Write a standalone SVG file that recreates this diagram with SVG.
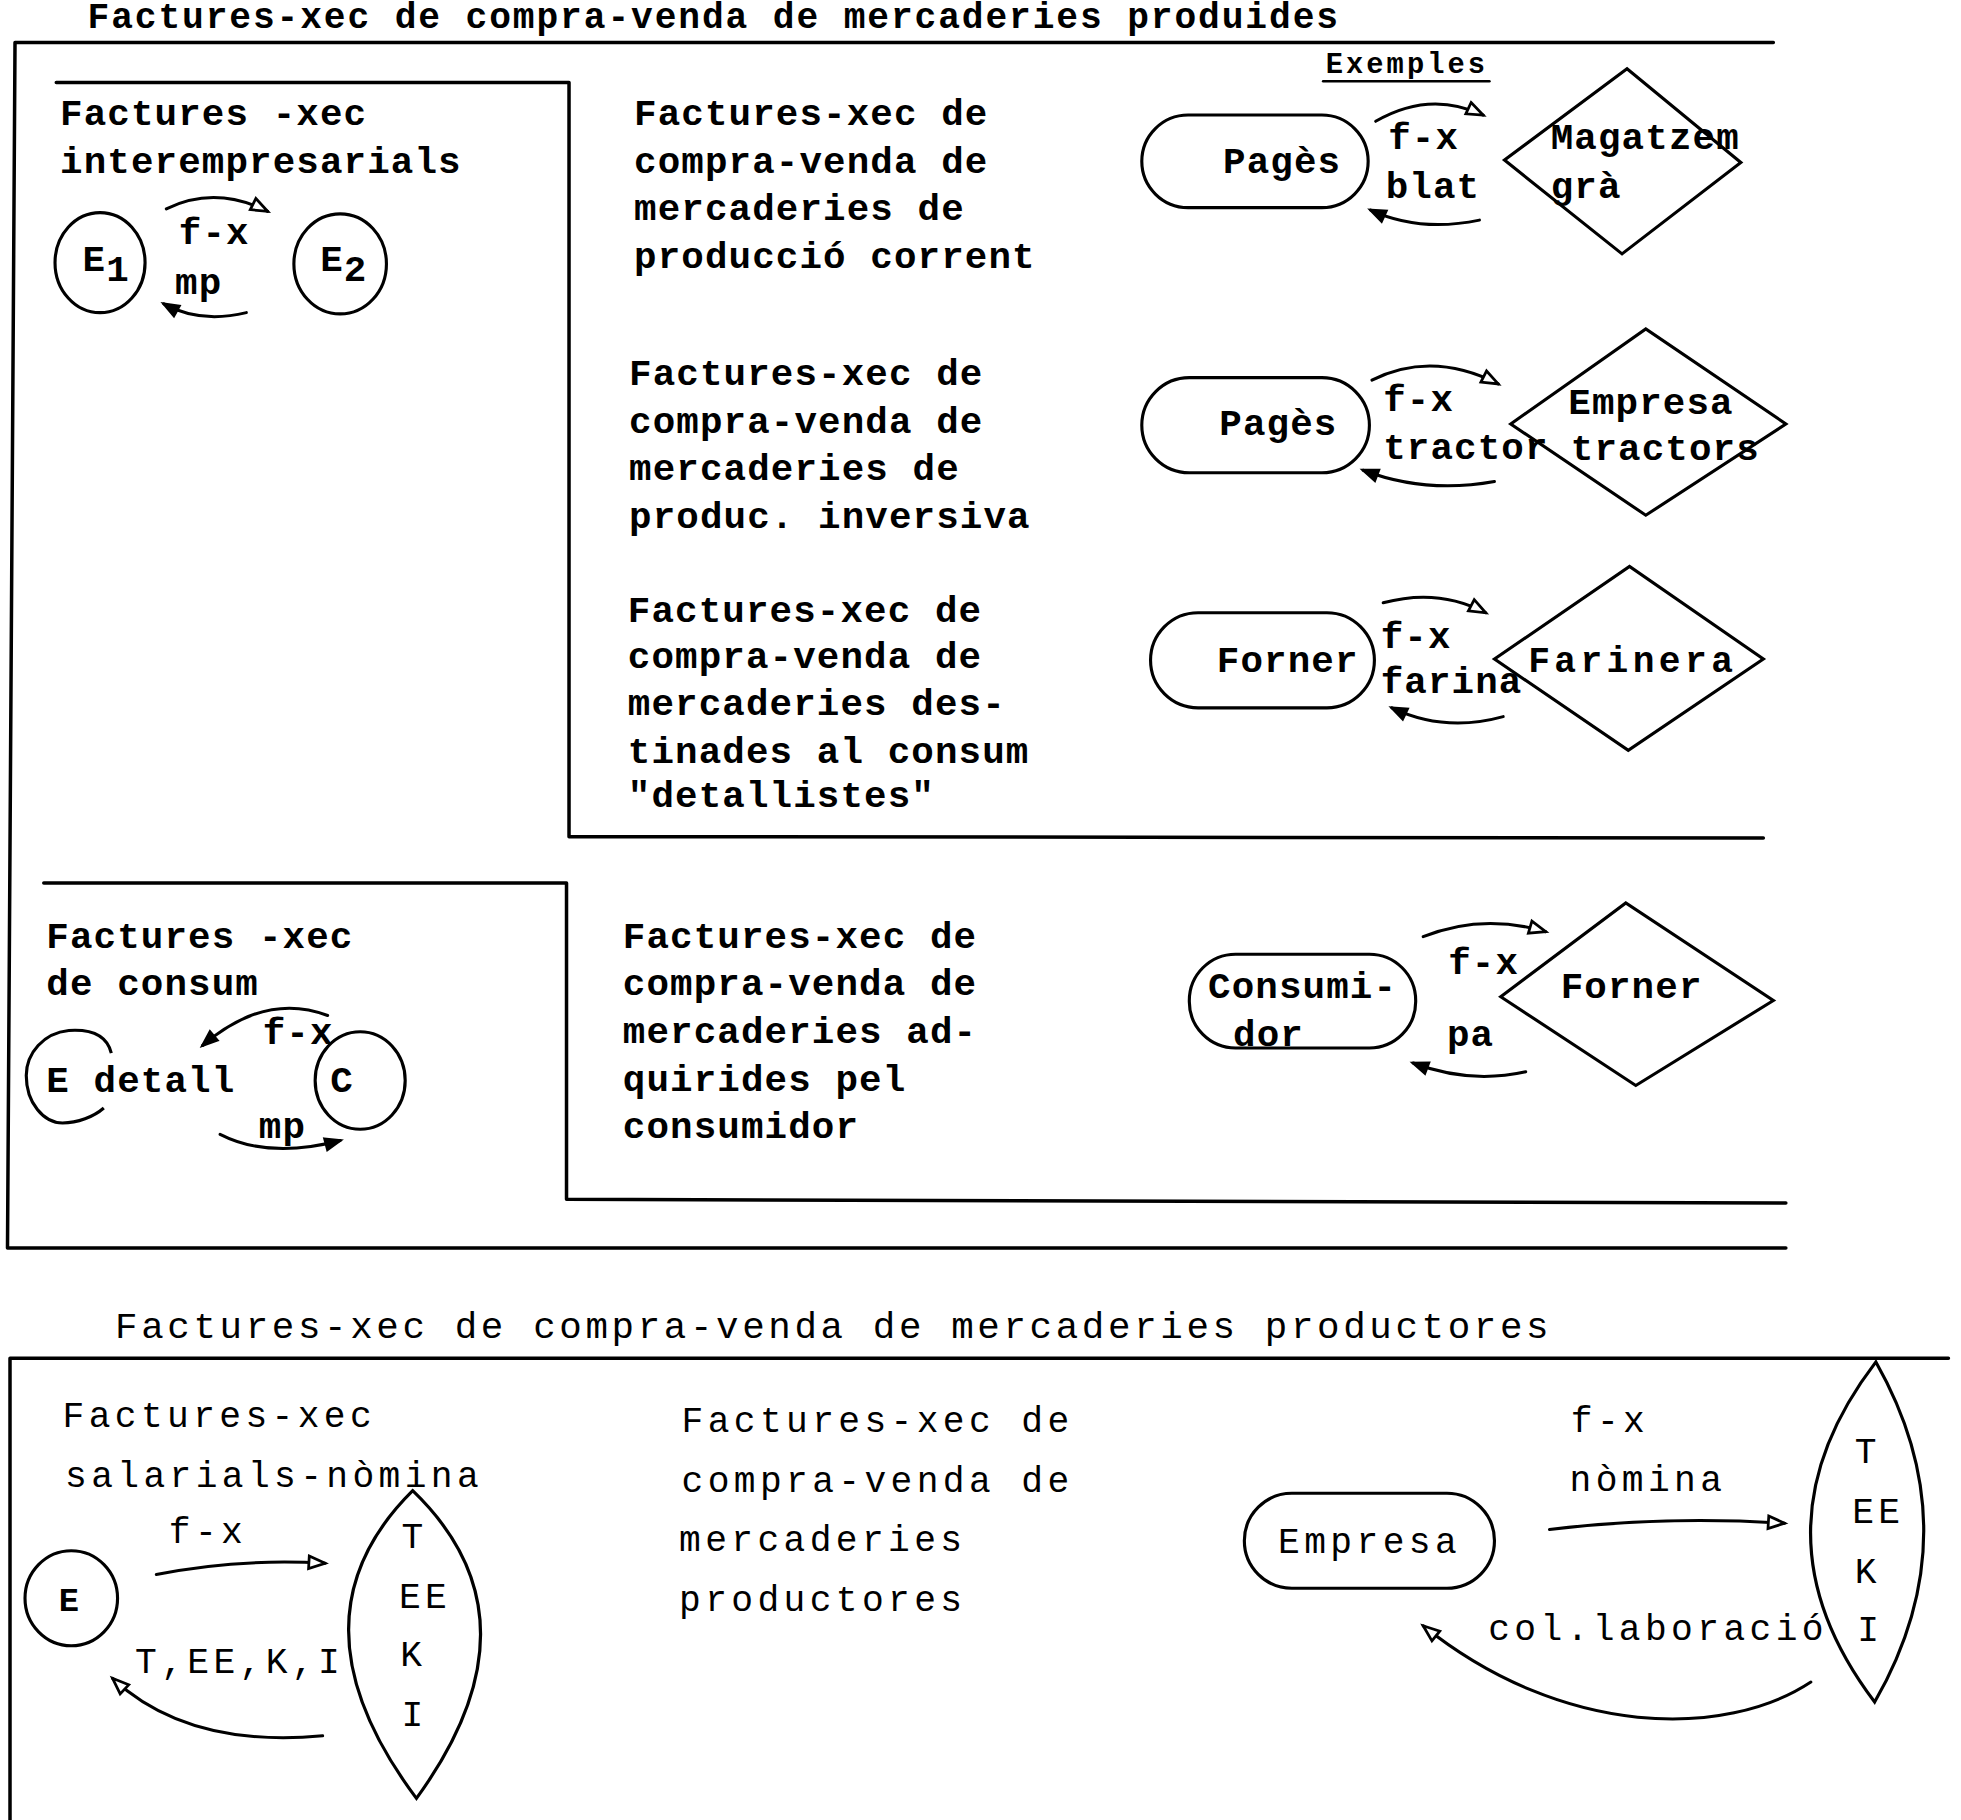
<svg xmlns="http://www.w3.org/2000/svg" width="1961" height="1820" viewBox="0 0 1961 1820">
<style>
.tb{font-family:"Liberation Mono","Courier New",monospace;font-weight:bold;font-size:30px;letter-spacing:0.9px;fill:#000}
.tt{font-family:"Liberation Mono","Courier New",monospace;font-weight:bold;font-size:29px;letter-spacing:1.5px;fill:#000}
.tl{font-family:"Liberation Mono","Courier New",monospace;font-size:29px;letter-spacing:3.5px;fill:#000}
.t2{font-family:"Liberation Mono","Courier New",monospace;font-size:30px;letter-spacing:2.9px;fill:#000}
.ts{font-family:"Liberation Mono","Courier New",monospace;font-weight:bold;font-size:23px;letter-spacing:2.45px;fill:#000}
.bx{fill:none;stroke:#000;stroke-width:2.8;stroke-linejoin:round;stroke-linecap:round}
.nd{fill:none;stroke:#000;stroke-width:2.5}
.cn{fill:none;stroke:#000;stroke-width:2.4;stroke-linecap:round}
.op{marker-end:url(#open)}
.fl{marker-end:url(#fill)}
</style>
<defs>
<marker id="open" markerUnits="userSpaceOnUse" markerWidth="18" markerHeight="14" refX="14" refY="5.5" orient="auto" overflow="visible">
<path d="M1,0.5 L14,5.5 L1,10.5 Z" fill="#fff" stroke="#000" stroke-width="2.2"/>
</marker>
<marker id="fill" markerUnits="userSpaceOnUse" markerWidth="16" markerHeight="12" refX="12" refY="5" orient="auto" overflow="visible">
<path d="M0,0 L13,5 L0,10 Z" fill="#000" stroke="#000" stroke-width="1.5"/>
</marker>
</defs>
<rect width="1961" height="1820" fill="#fff"/>
<g transform="scale(1.2506)">

<g id="frames">
<text class="tt" x="70" y="22">Factures-xec de compra-venda de mercaderies produides</text>
<path class="bx" d="M1418,34 L12,34 L6,998 L1428,998"/>
<path class="bx" d="M45,66 L455,66 L455,669 L1410,670"/>
<path class="bx" d="M35,706 L453,706 L453,959 L1428,962"/>
<text class="t2" x="92" y="1070">Factures-xec de compra-venda de mercaderies productores</text>
<path class="bx" d="M1558,1086 L8,1086 L8,1460"/>
<text class="ts" x="1060" y="58">Exemples</text>
<path class="bx" d="M1058,65 L1191,65" style="stroke-width:2"/>
</g>

<g id="interempresarials">
<text class="tb" x="48" y="100">Factures -xec</text>
<text class="tb" x="48" y="138">interempresarials</text>
<text class="tb" x="143" y="195">f-x</text>
<text class="tb" x="140" y="235">mp</text>
</g>
<g id="E1"><ellipse class="nd" cx="80" cy="210" rx="36" ry="40"/><text class="tb" x="66" y="217">E<tspan dy="8">1</tspan></text></g>
<g id="E2"><ellipse class="nd" cx="272" cy="211" rx="37" ry="40"/><text class="tb" x="256" y="217">E<tspan dy="8">2</tspan></text></g>

<g id="desc-corrent">
<text class="tb" x="507" y="100">Factures-xec de</text>
<text class="tb" x="507" y="138">compra-venda de</text>
<text class="tb" x="507" y="176">mercaderies de</text>
<text class="tb" x="507" y="214">producció corrent</text>
</g>
<g id="pages1"><rect class="nd" x="913" y="92" width="181" height="74" rx="37"/><text class="tb" x="978" y="138">Pagès</text></g>
<g id="magatzem"><polygon class="nd" points="1203,128 1301,55 1392,130 1297,203"/><text class="tb" x="1240" y="119">Magatzem</text><text class="tb" x="1240" y="158">grà</text></g>
<g id="lbl1"><text class="tb" x="1110" y="119">f-x</text><text class="tb" x="1108" y="158">blat</text></g>

<g id="desc-inversiva">
<text class="tb" x="503" y="308">Factures-xec de</text>
<text class="tb" x="503" y="346">compra-venda de</text>
<text class="tb" x="503" y="384">mercaderies de</text>
<text class="tb" x="503" y="422">produc. inversiva</text>
</g>
<g id="pages2"><rect class="nd" x="913" y="302" width="182" height="76" rx="38"/><text class="tb" x="975" y="348">Pagès</text></g>
<g id="empresa-tractors"><polygon class="nd" points="1208,339 1316,263 1428,339 1316,412"/><text class="tb" x="1254" y="331">Empresa</text><text class="tb" x="1256" y="368">tractors</text></g>
<g id="lbl2"><text class="tb" x="1106" y="329">f-x</text><text class="tb" x="1106" y="367">tractor</text></g>

<g id="desc-detallistes">
<text class="tb" x="502" y="497">Factures-xec de</text>
<text class="tb" x="502" y="534">compra-venda de</text>
<text class="tb" x="502" y="572">mercaderies des-</text>
<text class="tb" x="502" y="610">tinades al consum</text>
<text class="tb" x="502" y="645">"detallistes"</text>
</g>
<g id="forner1"><rect class="nd" x="920" y="490" width="179" height="76" rx="38"/><text class="tb" x="973" y="537">Forner</text></g>
<g id="farinera"><polygon class="nd" points="1195,527 1303,453 1410,527 1302,600"/><text class="tl" x="1222" y="537" style="font-weight:bold">Farinera</text></g>
<g id="lbl3"><text class="tb" x="1104" y="518">f-x</text><text class="tb" x="1104" y="554">farina</text></g>

<g id="consum">
<text class="tb" x="37" y="758">Factures -xec</text>
<text class="tb" x="37" y="796">de consum</text>
<text class="tb" x="210" y="835">f-x</text>
<text class="tb" x="207" y="910">mp</text>
</g>
<g id="Edetall"><path class="nd" d="M89,842 C85,826 70,823 55,824 C35,826 21,842 21,860 C21,882 35,898 50,898 C62,898 75,893 83,886"/><text class="tb" x="37" y="873">E detall</text></g>
<g id="C"><ellipse class="nd" cx="288" cy="864" rx="36" ry="39"/><text class="tb" x="264" y="873">C</text></g>

<g id="desc-consumidor">
<text class="tb" x="498" y="758">Factures-xec de</text>
<text class="tb" x="498" y="796">compra-venda de</text>
<text class="tb" x="498" y="834">mercaderies ad-</text>
<text class="tb" x="498" y="872">quirides pel</text>
<text class="tb" x="498" y="910">consumidor</text>
</g>
<g id="consumidor"><rect class="nd" x="951" y="763" width="181" height="75" rx="37"/><text class="tb" x="966" y="798">Consumi-</text><text class="tb" x="986" y="836">dor</text></g>
<g id="forner2"><polygon class="nd" points="1200,797 1300,722 1418,800 1308,868"/><text class="tb" x="1248" y="798">Forner</text></g>
<g id="lbl4"><text class="tb" x="1158" y="779">f-x</text><text class="tb" x="1157" y="836">pa</text></g>

<g id="salarials">
<text class="tl" x="50" y="1141">Factures-xec</text>
<text class="tl" x="52" y="1189">salarials-nòmina</text>
<text class="tl" x="135" y="1234">f-x</text>
<text class="tl" x="108" y="1338">T,EE,K,I</text>
</g>
<g id="E"><ellipse class="nd" cx="57" cy="1278" rx="37" ry="38"/><text class="tl" x="47" y="1288" style="font-weight:bold;font-size:27px">E</text></g>
<g id="factors1"><path class="nd" d="M330,1192 Q226,1295 333,1438 Q437,1295 330,1192 Z"/>
<text class="tl" x="321" y="1238">T</text><text class="tl" x="319" y="1286">EE</text><text class="tl" x="320" y="1332">K</text><text class="tl" x="321" y="1380">I</text></g>

<g id="desc-productores">
<text class="tl" x="545" y="1145">Factures-xec de</text>
<text class="tl" x="545" y="1193">compra-venda de</text>
<text class="tl" x="543" y="1240">mercaderies</text>
<text class="tl" x="543" y="1288">productores</text>
</g>
<g id="empresa"><rect class="nd" x="995" y="1194" width="200" height="76" rx="38"/><text class="tl" x="1022" y="1242">Empresa</text></g>
<g id="lbl5"><text class="tl" x="1256" y="1145">f-x</text><text class="tl" x="1255" y="1192">nòmina</text><text class="tl" x="1190" y="1311">col.laboració</text></g>
<g id="factors2"><path class="nd" d="M1500,1089 Q1396,1225 1499,1361 Q1577,1225 1500,1089 Z"/>
<text class="tl" x="1483" y="1170">T</text><text class="tl" x="1481" y="1218">EE</text><text class="tl" x="1483" y="1266">K</text><text class="tl" x="1485" y="1312">I</text></g>

<g id="connectors">
<path class="cn op" d="M133,167 Q172,148 214,169"/>
<path class="cn fl" d="M197,250 Q160,259 131,243"/>
<path class="cn op" d="M1100,97 Q1143,72 1186,92"/>
<path class="cn fl" d="M1183,176 Q1135,186 1096,168"/>
<path class="cn op" d="M1097,304 Q1145,280 1198,307"/>
<path class="cn fl" d="M1195,385 Q1140,395 1090,376"/>
<path class="cn op" d="M1106,482 Q1150,470 1188,490"/>
<path class="cn fl" d="M1202,573 Q1155,586 1113,566"/>
<path class="cn fl" d="M262,812 Q212,793 162,836"/>
<path class="cn fl" d="M176,907 Q215,927 272,912"/>
<path class="cn op" d="M1138,749 Q1185,730 1236,745"/>
<path class="cn fl" d="M1220,857 Q1175,867 1130,850"/>
<path class="cn op" d="M125,1259 Q190,1246 260,1250"/>
<path class="cn op" d="M258,1388 Q150,1398 90,1342"/>
<path class="cn op" d="M1239,1223 Q1330,1212 1427,1218"/>
<path class="cn op" d="M1448,1345 C1380,1390 1250,1390 1138,1300"/>
</g>
</g>
</svg>
